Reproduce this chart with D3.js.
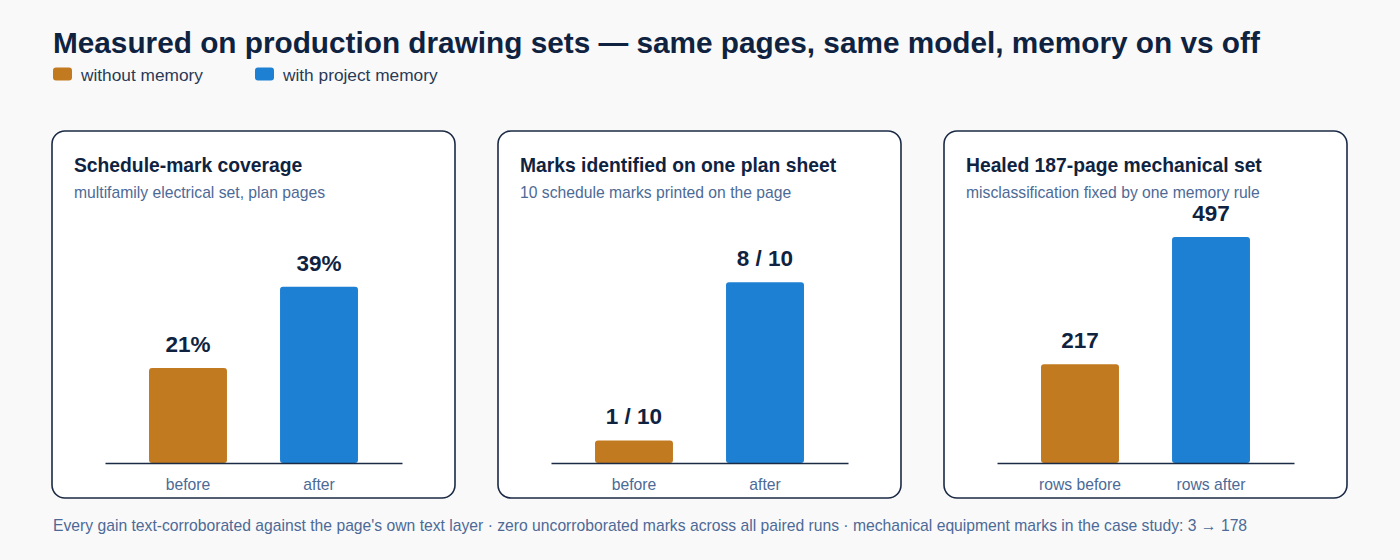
<!DOCTYPE html>
<html><head><meta charset="utf-8">
<script src="https://cdn.jsdelivr.net/npm/d3@7"></script>
<style>
html,body{margin:0;padding:0;background:#f9f9fa;}
svg{display:block;font-family:"Liberation Sans",Arial,Helvetica,sans-serif;}
</style></head>
<body>
<svg id="chart" width="1400" height="560"></svg>
<script>
const title = "Measured on production drawing sets — same pages, same model, memory on vs off";
const seriesNames = ["without memory", "with project memory"];
const seriesColors = ["#c17a20", "#1e80d2"];
const panelTitles = ["Schedule-mark coverage", "Marks identified on one plan sheet", "Healed 187-page mechanical set"];
const panelSubtitles = ["multifamily electrical set, plan pages", "10 schedule marks printed on the page", "misclassification fixed by one memory rule"];
const categories1 = ["before", "after"];
const categories2 = ["before", "after"];
const categories3 = ["rows before", "rows after"];
const values1 = [21, 39];
const values2 = [1, 8];
const values3 = [217, 497];
const labels1 = ["21%", "39%"];
const labels2 = ["1 / 10", "8 / 10"];
const labels3 = ["217", "497"];
const domainMax = [50, 10, 497];
const footer = "Every gain text-corroborated against the page's own text layer · zero uncorroborated marks across all paired runs · mechanical equipment marks in the case study: 3 → 178";

const panels = [
  {title: panelTitles[0], sub: panelSubtitles[0], cats: categories1, vals: values1, labels: labels1, max: domainMax[0]},
  {title: panelTitles[1], sub: panelSubtitles[1], cats: categories2, vals: values2, labels: labels2, max: domainMax[1]},
  {title: panelTitles[2], sub: panelSubtitles[2], cats: categories3, vals: values3, labels: labels3, max: domainMax[2]}
];

const svg = d3.select("#chart");
const navy = "#0f2341";
const muted = "#4d6a96";

svg.append("text").attr("x", 53).attr("y", 52.5)
  .attr("font-size", 29.75).attr("font-weight", "bold").attr("fill", navy).text(title);

const legendX = [53, 255];
seriesNames.forEach((n, i) => {
  svg.append("rect").attr("x", legendX[i]).attr("y", 67.5).attr("width", 19).attr("height", 13)
    .attr("rx", 3).attr("fill", seriesColors[i]);
  svg.append("text").attr("x", legendX[i] + 28).attr("y", 80.5).attr("font-size", 17.3)
    .attr("fill", "#2a3a55").text(n);
});

const panelW = 403, panelH = 367, panelY = 131;
const panelXs = [52, 498, 944];

panels.forEach((p, i) => {
  const g = svg.append("g").attr("transform", `translate(${panelXs[i]},${panelY})`);
  g.append("rect").attr("x", 0).attr("y", 0).attr("width", panelW).attr("height", panelH)
    .attr("rx", 13).attr("fill", "#ffffff").attr("stroke", "#1b2a45").attr("stroke-width", 1.6);
  g.append("text").attr("x", 22).attr("y", 41).attr("font-size", 19.3).attr("font-weight", "bold")
    .attr("fill", navy).text(p.title);
  g.append("text").attr("x", 22).attr("y", 67).attr("font-size", 15.7).attr("fill", muted).text(p.sub);

  const baseY = 332;
  const x = d3.scaleBand().domain(p.cats).range([53, 350]).paddingInner(0.405).paddingOuter(0.336);
  const y = d3.scaleLinear().domain([0, p.max]).range([baseY, baseY - 226]);

  g.selectAll("rect.bar").data(p.vals).enter().append("rect").attr("class", "bar")
    .attr("x", (d, j) => x(p.cats[j])).attr("width", x.bandwidth())
    .attr("y", d => y(d)).attr("height", d => baseY - y(d))
    .attr("rx", 3).attr("fill", (d, j) => seriesColors[j]);

  g.selectAll("text.val").data(p.vals).enter().append("text").attr("class", "val")
    .attr("x", (d, j) => x(p.cats[j]) + x.bandwidth() / 2).attr("y", d => y(d) - 16)
    .attr("text-anchor", "middle").attr("font-size", 22.5).attr("font-weight", "bold")
    .attr("fill", navy).text((d, j) => p.labels[j]);

  const axis = d3.axisBottom(x).tickSize(0).tickPadding(16);
  const ag = g.append("g").attr("transform", `translate(0,${baseY})`).call(axis);
  ag.select(".domain").attr("stroke", "#1b2a45").attr("stroke-width", 1.6);
  ag.selectAll("text").attr("font-size", 15.7).attr("fill", muted)
    .attr("font-family", "Liberation Sans, Arial, sans-serif");
});

svg.append("text").attr("x", 53).attr("y", 531).attr("font-size", 15.7).attr("fill", muted).text(footer);
</script>
</body></html>
